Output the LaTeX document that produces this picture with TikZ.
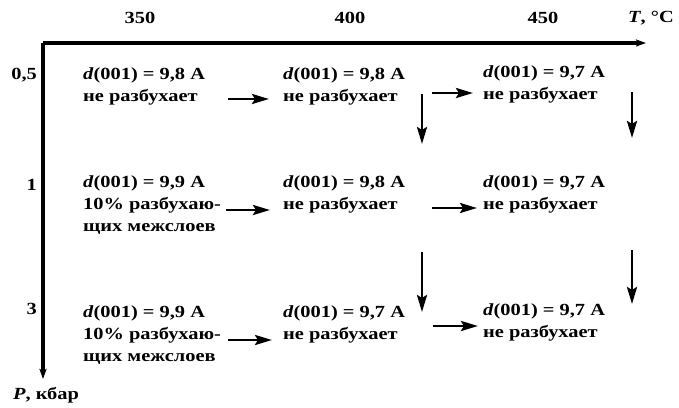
\documentclass[tikz,border=0pt]{standalone}
\usepackage{fontspec}
\setmainfont{Liberation Serif}[FakeStretch=1.2]
\usetikzlibrary{arrows.meta}
\tikzset{
  lbl/.style={inner sep=0pt, font=\bfseries\fontsize{17}{21}\selectfont},
  blk/.style={inner sep=0pt, anchor=west, align=left, font=\bfseries\fontsize{17}{22}\selectfont},
  axis/.style={line width=4pt, -{Stealth[length=10pt,width=7pt,inset=2pt]}},
  arr/.style={line width=2.8pt, -{Stealth[length=17pt,width=10pt,inset=3pt]}}
}
\newcommand{\dd}[1]{\textit{d}(001)\hspace{0.3em}=\hspace{0.3em}#1 A}
\begin{document}
\begin{tikzpicture}[x=1pt,y=-1pt]
\useasboundingbox (0,0) rectangle (679,407);
% axes
\coordinate (o) at (43,43);
\coordinate (tx) at (646,43);
\coordinate (py) at (43,379);
\draw[axis] (o) -- (tx);
\draw[axis] (o) -- (py);
\node[lbl] (t350) at (140,18) {350};
\node[lbl] (t400) at (350,18) {400};
\node[lbl] (t450) at (543,18) {450};
\node[lbl] (tT) at (651,18) {\textit{T}, °C};
\node[lbl,anchor=east] (p05) at (37,75) {0,5};
\node[lbl,anchor=east] (p1) at (37,185) {1};
\node[lbl,anchor=east] (p3) at (37,309) {3};
\node[lbl,anchor=west] (pP) at (13,395) {\textit{P}, кбар};
% row 1
\node[blk] (a1) at (83,86) {\dd{9,8}\\не разбухает};
\node[blk] (b1) at (283,86) {\dd{9,8}\\не разбухает};
\node[blk] (c1) at (483,84) {\dd{9,7}\\не разбухает};
% row 2
\node[blk] (a2) at (83,205) {\dd{9,9}\\10\% разбухаю-\\щих межслоев};
\node[blk] (b2) at (283,194) {\dd{9,8}\\не разбухает};
\node[blk] (c2) at (483,194) {\dd{9,7}\\не разбухает};
% row 3
\node[blk] (a3) at (83,335) {\dd{9,9}\\10\% разбухаю-\\щих межслоев};
\node[blk] (b3) at (283,324) {\dd{9,7}\\не разбухает};
\node[blk] (c3) at (483,322) {\dd{9,7}\\не разбухает};
% arrow coordinates
\coordinate (h11) at (228,99);  \coordinate (h12) at (269,99);
\coordinate (h21) at (432,93);  \coordinate (h22) at (473,93);
\coordinate (h31) at (226,210); \coordinate (h32) at (270,210);
\coordinate (h41) at (432,208); \coordinate (h42) at (477,208);
\coordinate (h51) at (228,340); \coordinate (h52) at (272,340);
\coordinate (h61) at (433,326); \coordinate (h62) at (478,326);
\coordinate (v11) at (422,94);  \coordinate (v12) at (422,144);
\coordinate (v21) at (632,92);  \coordinate (v22) at (632,138);
\coordinate (v31) at (422,252); \coordinate (v32) at (422,312);
\coordinate (v41) at (632,250); \coordinate (v42) at (632,304);
\draw[arr] (h11) -- (h12);
\draw[arr] (h21) -- (h22);
\draw[arr] (h31) -- (h32);
\draw[arr] (h41) -- (h42);
\draw[arr] (h51) -- (h52);
\draw[arr] (h61) -- (h62);
\draw[arr] (v11) -- (v12);
\draw[arr] (v21) -- (v22);
\draw[arr] (v31) -- (v32);
\draw[arr] (v41) -- (v42);
\end{tikzpicture}
\end{document}
